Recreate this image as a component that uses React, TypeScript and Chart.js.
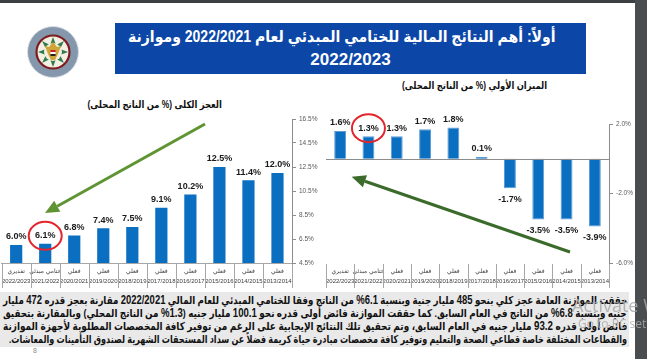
import React, { useEffect, useLayoutEffect, useRef } from 'react';
import { Chart, registerables } from 'chart.js';

Chart.register(...registerables);

// ---------- data ----------
const periods = ['2022/2023', '2021/2022', '2020/2021', '2019/2020', '2018/2019', '2017/2018', '2016/2017', '2015/2016', '2014/2015', '2013/2014'];
const periodTypes = ['تقديري', 'ختامي مبدئي', 'فعلي', 'فعلي', 'فعلي', 'فعلي', 'فعلي', 'فعلي', 'فعلي', 'فعلي'];
const overallDeficit = [6.0, 6.1, 6.8, 7.4, 7.5, 9.1, 10.2, 12.5, 11.4, 12.0];
const primaryBalance = [1.6, 1.3, 1.3, 1.7, 1.8, 0.1, -1.7, -3.5, -3.5, -3.9];
const deficitAxis = { min: 4.5, max: 16.5, step: 2 };
const primaryAxis = { min: -6.0, max: 2.0, step: 4 };

const leftTitle = 'العجز الكلى (% من الناتج المحلى)';
const rightTitle = 'الميزان الأولي (% من الناتج المحلى)';
const headerLine1 = 'أولاً: أهم النتائج المالية للختامي المبدئي لعام 2022/2021 وموازنة';
const headerLine2 = '2022/2023';

const FONT = "'Liberation Sans', Arial, 'DejaVu Sans', sans-serif";

function drawArrow(ctx: CanvasRenderingContext2D, x1: number, y1: number, x2: number, y2: number, color: string, width: number, head: number) {
  const ang = Math.atan2(y2 - y1, x2 - x1);
  const bx = x2 - head * Math.cos(ang);
  const by = y2 - head * Math.sin(ang);
  ctx.save();
  ctx.strokeStyle = color;
  ctx.lineWidth = width;
  ctx.beginPath();
  ctx.moveTo(x1, y1);
  ctx.lineTo(bx, by);
  ctx.stroke();
  ctx.fillStyle = color;
  const hw = head * 0.45;
  ctx.beginPath();
  ctx.moveTo(x2, y2);
  ctx.lineTo(bx + hw * Math.sin(ang), by - hw * Math.cos(ang));
  ctx.lineTo(bx - hw * Math.sin(ang), by + hw * Math.cos(ang));
  ctx.closePath();
  ctx.fill();
  ctx.restore();
}

const decoPlugin = {
  id: 'deco',
  afterDatasetsDraw(chart: any, _args: any, opts: any) {
    const { ctx, chartArea } = chart;
    const n = chart.data.labels.length;
    const w = chartArea.width / n;
    ctx.save();
    // category dividers
    ctx.strokeStyle = '#a6a6a6';
    ctx.lineWidth = 1;
    for (let i = 0; i <= n; i++) {
      const x = Math.round(chartArea.left + i * w) + 0.5;
      ctx.beginPath();
      ctx.moveTo(x, chartArea.bottom + 1);
      ctx.lineTo(x, chartArea.bottom + 25);
      ctx.stroke();
    }
    if (opts.zeroLine) {
      const y = Math.round(chart.scales.y.getPixelForValue(0)) + 0.5;
      ctx.strokeStyle = '#8c8c8c';
      ctx.beginPath();
      ctx.moveTo(chartArea.left, y);
      ctx.lineTo(chartArea.right, y);
      ctx.stroke();
    }
    // data labels
    const meta = chart.getDatasetMeta(0);
    const values = chart.data.datasets[0].data as number[];
    ctx.font = `bold 9px ${FONT}`;
    ctx.fillStyle = '#1a1a1a';
    ctx.textAlign = 'center';
    ctx.textBaseline = 'middle';
    const centers: { x: number; y: number }[] = [];
    meta.data.forEach((bar: any, i: number) => {
      const v = values[i];
      const y = v >= 0 ? bar.y - 8 : bar.y + 11;
      centers.push({ x: bar.x, y });
      ctx.fillText(v.toFixed(1) + '%', bar.x, y);
    });
    if (opts.circleIndex != null) {
      const c = centers[opts.circleIndex];
      ctx.strokeStyle = '#e3262b';
      ctx.lineWidth = 2;
      ctx.beginPath();
      ctx.ellipse(c.x, c.y, 16.5, 14, 0, 0, Math.PI * 2);
      ctx.stroke();
    }
    if (opts.arrow) {
      const a = opts.arrow;
      drawArrow(ctx, a.x1, a.y1, a.x2, a.y2, a.color, 3, 14);
    }
    ctx.restore();
  },
};

function buildConfig(o: any): any {
  return {
    type: 'bar',
    data: {
      labels: periods.map((p, i) => [periodTypes[i], p]),
      datasets: [
        {
          data: o.values,
          backgroundColor: '#0a6fc0',
          borderColor: o.borderColor,
          borderWidth: o.borderWidth,
          categoryPercentage: 1,
          barPercentage: 0.42,
        },
      ],
    },
    options: {
      responsive: false,
      animation: false,
      devicePixelRatio: 1,
      layout: { padding: { top: o.padTop, left: o.padLeft, right: 0, bottom: 0 } },
      plugins: {
        legend: { display: false },
        tooltip: { enabled: false },
        title: { display: false },
        deco: { zeroLine: o.zeroLine, circleIndex: 1, arrow: o.arrow },
      },
      scales: {
        x: {
          grid: { display: false, drawTicks: false },
          border: { display: o.xBorder, color: '#a6a6a6' },
          ticks: {
            font: { family: FONT, size: 6, lineHeight: '9.5px' },
            color: '#404040',
            padding: 4,
            maxRotation: 0,
            minRotation: 0,
            autoSkip: false,
          },
          afterFit: (s: any) => {
            s.height = 27;
          },
        },
        y: {
          position: 'right',
          min: o.axis.min,
          max: o.axis.max,
          ticks: {
            stepSize: o.axis.step,
            callback: (v: any) => Number(v).toFixed(1) + '%',
            font: { family: FONT, size: 6.5 },
            color: '#595959',
            padding: 3,
          },
          grid: { drawOnChartArea: false, drawTicks: true, tickLength: 4, tickColor: '#8c8c8c' },
          border: { display: true, color: '#8c8c8c' },
          afterFit: (s: any) => {
            s.width = o.yWidth;
          },
        },
      },
    },
    plugins: [decoPlugin],
  };
}

const N = ({ children }: any) => <span style={{ fontSize: 12 }}>{children}</span>;

// a line of text stretched/compressed horizontally to a target width
const Fit = ({ w, origin, children, style }: any) => (
  <span
    data-fit={w}
    style={{ display: 'inline-block', whiteSpace: 'nowrap', transformOrigin: origin, ...style }}
  >
    {children}
  </span>
);

export default function App() {
  const leftRef = useRef<HTMLCanvasElement>(null);
  const rightRef = useRef<HTMLCanvasElement>(null);
  const rootRef = useRef<HTMLDivElement>(null);

  useLayoutEffect(() => {
    const els = rootRef.current!.querySelectorAll<HTMLElement>('[data-fit]');
    els.forEach((el) => {
      const target = Number(el.dataset.fit);
      const w = el.offsetWidth;
      if (w > 0) el.style.transform = `scaleX(${target / w})`;
    });
  }, []);

  useEffect(() => {
    const c1 = new Chart(
      leftRef.current!,
      buildConfig({
        values: overallDeficit,
        axis: deficitAxis,
        padTop: 24,
        padLeft: 0,
        yWidth: 41,
        xBorder: true,
        zeroLine: false,
        borderColor: '#0a6fc0',
        borderWidth: 0,
        arrow: { x1: 207, y1: 29, x2: 47, y2: 118, color: '#5f9432' },
      })
    );
    const c2 = new Chart(
      rightRef.current!,
      buildConfig({
        values: primaryBalance,
        axis: primaryAxis,
        padTop: 29,
        padLeft: 6,
        yWidth: 38,
        xBorder: false,
        zeroLine: true,
        borderColor: '#5b9bd5',
        borderWidth: 1,
        arrow: { x1: 250, y1: 157, x2: 31.7, y2: 81.7, color: '#3b6b2b' },
      })
    );
    return () => {
      c1.destroy();
      c2.destroy();
    };
  }, []);

  const pLine: React.CSSProperties = { height: 13, textAlign: 'right', whiteSpace: 'nowrap' };

  return (
    <div
      ref={rootRef}
      style={{
        position: 'fixed',
        left: 0,
        top: 0,
        width: 647,
        height: 359,
        overflow: 'hidden',
        background: '#ffffff',
        fontFamily: FONT,
      }}
    >
      {/* logo */}
      <svg width={54} height={54} style={{ position: 'absolute', left: 26, top: 25 }} viewBox="0 0 54 54">
        <circle cx={27} cy={27} r={25.5} fill="#8497ad" stroke="#d9dee4" strokeWidth={1} />
        <circle cx={27} cy={27} r={16.5} fill="#f3efe2" stroke="#7d1d1d" strokeWidth={2.2} />
        <polygon
          points="27,12 30,20 38,16 34,24 42,27 34,30 38,38 30,34 27,42 24,34 16,38 20,30 12,27 20,24 16,16 24,20"
          fill="#2f7a4c"
        />
        <circle cx={27} cy={27} r={9} fill="#f3efe2" />
        <path d="M27 17 L31 22 L35 21 L32 29 L29 35 L25 35 L22 29 L19 21 L23 22 Z" fill="#cfa53a" />
        <rect x={24.5} y={25} width={5} height={2} fill="#c8202a" />
        <rect x={24.5} y={27} width={5} height={2} fill="#ffffff" />
        <rect x={24.5} y={29} width={5} height={2} fill="#222" />
      </svg>

      {/* header */}
      <div
        style={{
          position: 'absolute',
          left: 115,
          top: 23,
          width: 471,
          height: 51,
          background: '#0c47a8',
          color: '#ffffff',
          fontWeight: 'bold',
          textAlign: 'center',
          direction: 'rtl',
          boxSizing: 'border-box',
          paddingTop: 2,
        }}
      >
        <div style={{ height: 24, lineHeight: '24px', fontSize: 16 }}>
          <Fit w={428} origin="center center">
            {headerLine1}
          </Fit>
        </div>
        <div style={{ height: 24, lineHeight: '22px', fontSize: 17 }}>{headerLine2}</div>
      </div>

      {/* chart titles */}
      <div style={{ position: 'absolute', left: 55, top: 98, width: 200, textAlign: 'center', direction: 'rtl', fontWeight: 'bold', fontSize: 10, lineHeight: '14px', color: '#111' }}>
        <Fit w={134} origin="center center">
          {leftTitle}
        </Fit>
      </div>
      <div style={{ position: 'absolute', left: 375, top: 79, width: 200, textAlign: 'center', direction: 'rtl', fontWeight: 'bold', fontSize: 10, lineHeight: '14px', color: '#111' }}>
        <Fit w={145} origin="center center">
          {rightTitle}
        </Fit>
      </div>

      {/* charts */}
      <canvas ref={leftRef} width={335} height={195} style={{ position: 'absolute', left: -2, top: 95, width: 335, height: 195 }} />
      <canvas ref={rightRef} width={327} height={195} style={{ position: 'absolute', left: 320, top: 95, width: 327, height: 195 }} />

      {/* paragraph */}
      <div style={{ position: 'absolute', left: 0, top: 292, width: 629, height: 55, background: '#e9e9e9' }} />
      <div
        style={{
          position: 'absolute',
          left: 3,
          top: 294,
          width: 624,
          direction: 'rtl',
          fontWeight: 'bold',
          fontSize: 11,
          lineHeight: '13px',
          color: '#111',
        }}
      >
        <div style={pLine}>
          <Fit w={624} origin="right center">
            حققت الموازنة العامة عجز كلي بنحو <N>485</N> مليار جنية وبنسبة <N>6.1%</N> من الناتج وفقا للختامي المبدئي للعام المالي <N>2022/2021</N> مقارنة بعجز قدره <N>472</N> مليار
          </Fit>
        </div>
        <div style={pLine}>
          <Fit w={624} origin="right center">
            جنيه وبنسبة <N>6.8%</N> من الناتج في العام السابق. كما حققت الموازنة فائض أولى قدره نحو <N>100.1</N> مليار جنيه (<N>1.3%</N> من الناتج المحلي) وبالمقارنة بتحقيق
          </Fit>
        </div>
        <div style={pLine}>
          <Fit w={624} origin="right center">
            فائض أولى قدره <N>93.2</N> مليار جنيه في العام السابق، وتم تحقيق تلك النتائج الإيجابية على الرغم من توفير كافة المخصصات المطلوبة لأجهزة الموازنة
          </Fit>
        </div>
        <div style={pLine}>
          <Fit w={618} origin="right center">
            والقطاعات المختلفة خاصة قطاعي الصحة والتعليم وتوفير كافة مخصصات مبادرة حياة كريمة فضلاً عن سداد المستحقات الشهرية لصندوق التأمينات والمعاشات.
          </Fit>
        </div>
      </div>
      <div style={{ position: 'absolute', left: 33, top: 347, fontSize: 7, color: '#8c8c8c' }}>8</div>

      {/* dark frame */}
      <div style={{ position: 'absolute', left: 0, top: 0, width: 647, height: 3, background: '#3d4043' }} />
      <div style={{ position: 'absolute', left: 635, top: 0, width: 12, height: 359, background: '#4a4d50' }} />

      {/* watermark */}
      <div
        style={{
          position: 'absolute',
          left: 572,
          top: 294,
          whiteSpace: 'nowrap',
          fontFamily: "'Open Sans', 'DejaVu Sans', sans-serif",
          color: '#a9a9a9',
          opacity: 0.85,
        }}
      >
        <div style={{ fontSize: 18, lineHeight: '22px' }}>Activate Windows</div>
        <div style={{ fontSize: 12, lineHeight: '16px', paddingLeft: 6 }}>Go to PC settings to activate Windows.</div>
      </div>
    </div>
  );
}
